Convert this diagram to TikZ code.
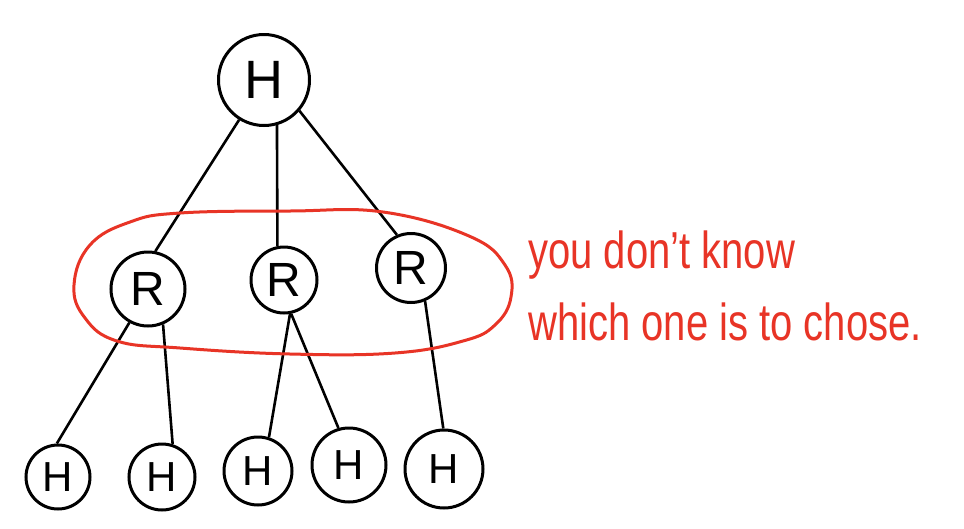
\documentclass[tikz,border=0pt]{standalone}
\usepackage{fontspec}
\setmainfont{Liberation Sans}
\definecolor{annot}{RGB}{232,52,38}
\begin{document}
\begin{tikzpicture}[x=1pt,y=-1pt,
  vtx/.style={circle,draw=black,line width=3pt,inner sep=0pt},
  bigH/.style={font=\fontsize{54}{54}\selectfont},
  midR/.style={font=\fontsize{48}{48}\selectfont},
  smallH/.style={font=\fontsize{42}{42}\selectfont},
  edge/.style={line width=2.6pt},
  annotline/.style={draw=annot,line width=3pt},
  annottext/.style={text=annot,anchor=base west,inner sep=0pt,font=\fontsize{40}{40}\selectfont}]
\useasboundingbox[fill=white] (0,0) rectangle (964,528);
% nodes
\node[vtx,bigH,minimum size=91pt] (top) at (264,80) {H};
\node[vtx,midR,minimum size=74pt] (r1) at (148,289) {R};
\node[vtx,midR,minimum size=66pt] (r2) at (284,280) {R};
\node[vtx,midR,minimum size=69pt] (r3) at (411,268) {R};
\node[vtx,smallH,minimum size=64pt] (h1) at (58,477) {H};
\node[vtx,smallH,minimum size=66pt] (h2) at (162,477) {H};
\node[vtx,smallH,minimum size=68pt] (h3) at (258,471) {H};
\node[vtx,smallH,minimum size=74pt] (h4) at (349,465) {H};
\node[vtx,smallH,minimum size=78pt] (h5) at (444,469) {H};
% edges
\draw[edge] (top.-122) -- (r1.79);
\draw[edge] (top.-74) -- (r2.101);
\draw[edge] (top.-41) -- (r3.113);
\draw[edge] (r1.-119) -- (h1.92);
\draw[edge] (r1.-67) -- (h2.72);
\draw[edge] (r2.-80) -- (h3.72);
\draw[edge] (r2.-78) -- (h4.106);
\draw[edge] (r3.-67) -- (h5.91);
% red loop
\draw[annotline] plot[smooth cycle,tension=0.7] coordinates {
  (74,285) (90,245) (130,222) (180,213) (290,211) (383,212) (469,236)
  (505,265) (511,297) (495,325) (463,341) (395,353) (290,354) (180,348)
  (117,341) (85,318)};
% annotation text
\node[annottext] (l1) at (528,268) {\scalebox{1}[1.3]{you don't know}};
\node[annottext] (l2) at (528,340) {\scalebox{1}[1.3]{which one is to chose.}};
\end{tikzpicture}
\end{document}
